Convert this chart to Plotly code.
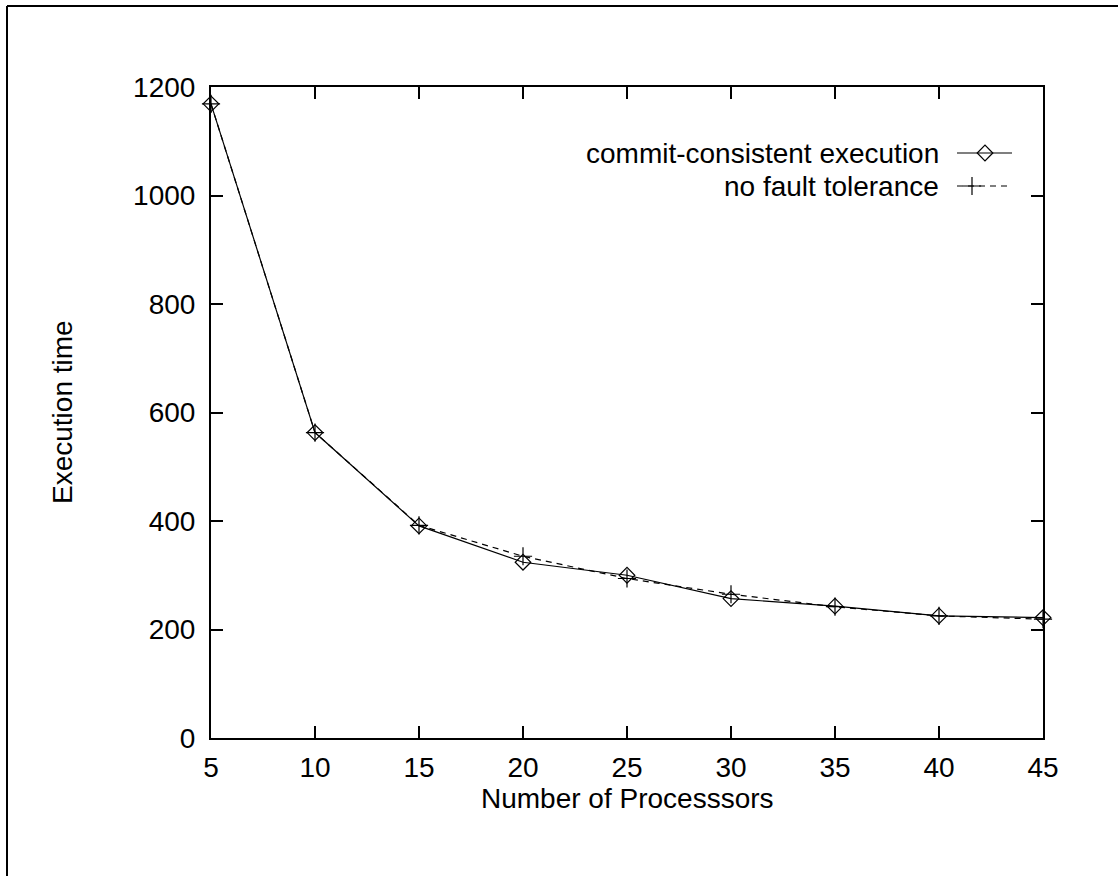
import plotly.graph_objects as go

processors = [5, 10, 15, 20, 25, 30, 35, 40, 45]
commit_consistent = [1169, 563, 391, 324, 300, 257, 243, 225, 222]
no_fault_tolerance = [1169, 563, 392, 335, 294, 265, 242, 225, 219]

x_ticks = [5, 10, 15, 20, 25, 30, 35, 40, 45]
y_ticks = [0, 200, 400, 600, 800, 1000, 1200]

series_names = ["commit-consistent execution", "no fault tolerance"]

FONT = "Liberation Sans, Arial, Helvetica, sans-serif"
FS = 28

# plot area in pixels
L, R, T, B = 211, 1043, 87, 738
W, H = 1118, 876

DIAMOND = dict(symbol="diamond-open", size=12, color="black", line=dict(color="black", width=1.2))
CROSS = dict(symbol="cross-thin-open", size=13, color="black", line=dict(color="black", width=1.2))

fig = go.Figure()

fig.add_trace(go.Scatter(
    x=processors, y=no_fault_tolerance, mode="lines+markers",
    line=dict(color="black", width=1.2, dash="6px,5px"),
    marker=CROSS, showlegend=False, cliponaxis=False,
))
fig.add_trace(go.Scatter(
    x=processors, y=commit_consistent, mode="lines+markers",
    line=dict(color="black", width=1.2),
    marker=DIAMOND, showlegend=False, cliponaxis=False,
))

# manual gnuplot-style legend (samples to the right of the text) on a pixel overlay axis
leg_y = [153, 186]
fig.add_trace(go.Scatter(
    x=[957, 1012], y=[leg_y[0], leg_y[0]], mode="lines",
    line=dict(color="black", width=1.2), xaxis="x2", yaxis="y2", showlegend=False,
))
fig.add_trace(go.Scatter(
    x=[985], y=[leg_y[0]], mode="markers", marker=DIAMOND,
    xaxis="x2", yaxis="y2", showlegend=False,
))
fig.add_trace(go.Scatter(
    x=[957, 1012], y=[leg_y[1], leg_y[1]], mode="lines",
    line=dict(color="black", width=1.2, dash="6px,5px"), xaxis="x2", yaxis="y2", showlegend=False,
))
fig.add_trace(go.Scatter(
    x=[972], y=[leg_y[1]], mode="markers", marker=CROSS,
    xaxis="x2", yaxis="y2", showlegend=False,
))


def px(xpix):
    return (xpix - L) / (R - L)


def py(ypix):
    return (B - ypix) / (B - T)


annotations = [
    dict(text=series_names[0], x=px(941), y=py(leg_y[0]), xref="paper", yref="paper",
         xanchor="right", yanchor="middle", showarrow=False, font=dict(size=FS, family=FONT, color="black")),
    dict(text=series_names[1], x=px(941), y=py(leg_y[1]), xref="paper", yref="paper",
         xanchor="right", yanchor="middle", showarrow=False, font=dict(size=FS, family=FONT, color="black")),
    dict(text="Number of Processsors", x=px(627), y=py(798), xref="paper", yref="paper",
         xanchor="center", yanchor="middle", showarrow=False, font=dict(size=FS, family=FONT, color="black")),
    dict(text="Execution time", x=px(62), y=py(412), xref="paper", yref="paper",
         xanchor="center", yanchor="middle", textangle=-90, showarrow=False,
         font=dict(size=FS, family=FONT, color="black")),
]

shapes = [
    dict(type="line", xref="paper", yref="paper", x0=px(7), x1=px(7), y0=py(900), y1=py(6),
         line=dict(color="black", width=2)),
    dict(type="line", xref="paper", yref="paper", x0=px(7), x1=px(1200), y0=py(6), y1=py(6),
         line=dict(color="black", width=2)),
]

axis_common = dict(
    showline=True, linecolor="black", linewidth=2, mirror="ticks",
    ticks="inside", ticklen=12, tickwidth=1.5, tickcolor="black",
    showgrid=False, zeroline=False,
    tickfont=dict(size=FS, family=FONT, color="black"),
)

fig.update_layout(
    width=W, height=H,
    margin=dict(l=L, r=W - R, t=T, b=H - B),
    paper_bgcolor="white", plot_bgcolor="white",
    xaxis=dict(range=[5, 45], tickvals=x_ticks, ticktext=[str(v) for v in x_ticks],
               ticklabelstandoff=3, **axis_common),
    yaxis=dict(range=[0, 1200], tickvals=y_ticks, ticktext=[str(v) for v in y_ticks],
               ticklabelstandoff=8, **axis_common),
    xaxis2=dict(overlaying="x", range=[L, R], visible=False, domain=[0, 1]),
    yaxis2=dict(overlaying="y", range=[B, T], visible=False, domain=[0, 1]),
    annotations=annotations,
    shapes=shapes,
)

fig.write_html("out.html")
